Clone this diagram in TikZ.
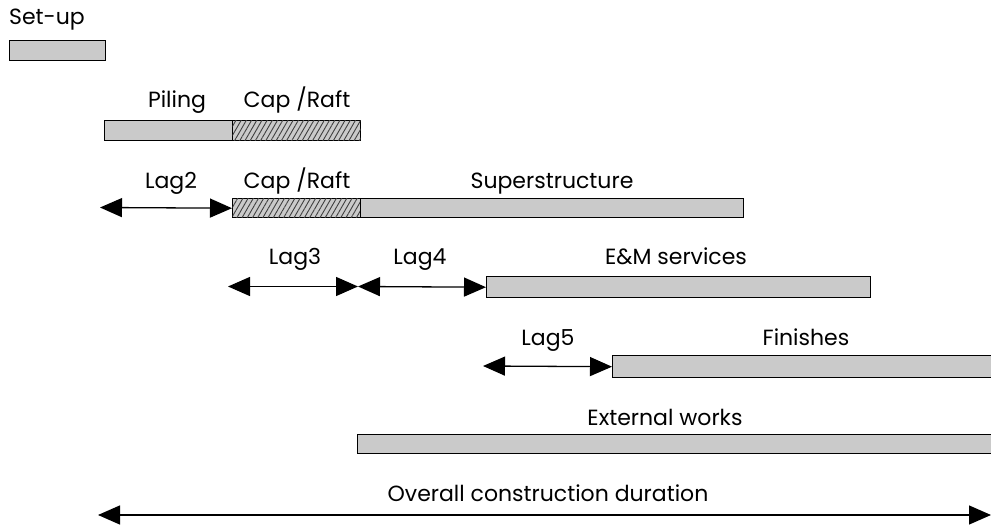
\documentclass[tikz,border=0pt]{standalone}
\usepackage{fontspec}
\setmainfont{Poppins}
\usetikzlibrary{arrows.meta,patterns.meta}
\definecolor{bargray}{HTML}{CACACA}
\tikzset{
  bar/.style={draw=black, line width=1.4pt, fill=bargray, inner sep=0pt, minimum height=20pt, anchor=north west},
  hatchbar/.style={bar, postaction={pattern={Lines[angle=60,distance=4.5pt,line width=0.9pt]}, pattern color=black!75}},
  lbl/.style={font=\fontsize{22}{26}\selectfont, inner sep=0pt, anchor=base},
  lag/.style={line width=1.3pt, {Triangle[length=22pt,width=19pt]}-{Triangle[length=22pt,width=19pt]}},
}
\begin{document}
\begin{tikzpicture}[x=1pt,y=-1pt]
\useasboundingbox (0,0) rectangle (991,529);
% bars
\node[bar, minimum width=96pt] (setup) at (9,40) {};
\node[bar, minimum width=128pt] (piling) at (104,120) {};
\node[hatchbar, minimum width=128pt] (cap1) at (232,120) {};
\node[hatchbar, minimum width=128pt, minimum height=19pt] (cap2) at (232,198) {};
\node[bar, minimum width=383pt, minimum height=19pt] (super) at (360,198) {};
\node[bar, minimum width=384pt, minimum height=21pt] (em) at (486,276) {};
\node[bar, minimum width=385pt, minimum height=22pt] (fin) at (612,355) {};
\node[bar, minimum width=640pt, minimum height=19pt] (ext) at (357,434) {};
% labels
\node[lbl] (tsetup) at (47,25) {Set-up};
\node[lbl] (tpil) at (177,108) {Piling};
\node[lbl] (tcap1) at (297,108) {Cap /Raft};
\node[lbl] (tlag2) at (171,189) {Lag2};
\node[lbl] (tcap2) at (297,189) {Cap /Raft};
\node[lbl] (tsup) at (552,189) {Superstructure};
\node[lbl] (tlag3) at (295,265) {Lag3};
\node[lbl] (tlag4) at (420,265) {Lag4};
\node[lbl] (tem) at (676,265) {E\&M services};
\node[lbl] (tlag5) at (548,345) {Lag5};
\node[lbl] (tfin) at (806,345) {Finishes};
\node[lbl] (text) at (665,425) {External works};
\node[lbl] (tover) at (548,501) {Overall construction duration};
% lag arrows
\coordinate (l2s) at (100,207.5);
\coordinate (l3s) at (228,286.5);
\coordinate (l34) at (358,286.5);
\coordinate (l5s) at (483,366);
\coordinate (os) at (98,515);
\coordinate (oe) at (991,515);
\draw[lag] (l2s) -- (cap2.west);
\draw[lag] (l3s) -- (l34);
\draw[lag] (l34) -- (em.west);
\draw[lag] (l5s) -- (fin.west);
\draw[lag] (os) -- (oe);
\end{tikzpicture}
\end{document}
